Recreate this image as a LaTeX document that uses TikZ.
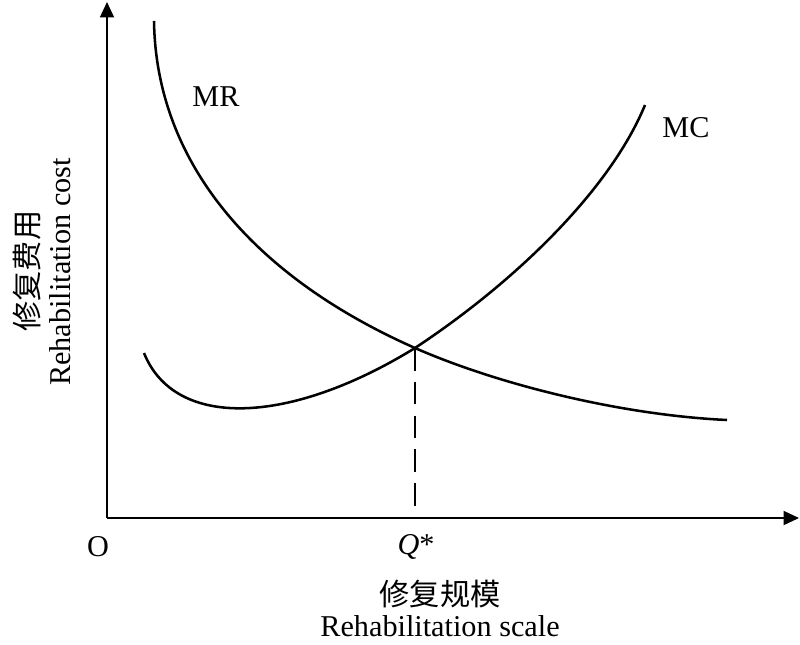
\documentclass[tikz,border=0pt]{standalone}
\usepackage{fontspec}
\setmainfont{Liberation Serif}
\newfontfamily\cjk{Noto Sans CJK SC}
\usetikzlibrary{arrows.meta,positioning}

\tikzset{
  axis/.style={line width=1.2pt, -{Triangle[length=11pt,width=10pt]}},
  curve/.style={line width=1.8pt},
  lbl/.style={inner sep=0pt, font=\fontsize{21.5}{24}\selectfont},
}

\begin{document}
\begin{tikzpicture}[x=0.025cm, y=-0.025cm]
  \useasboundingbox (0,0) rectangle (800,644);

  % axes
  \coordinate (O) at (107,518);
  \coordinate (ytop) at (107,2);
  \coordinate (xend) at (799,518);
  \draw[axis] (O) -- (ytop);
  \draw[axis] (O) -- (xend);

  % MR and MC, meeting at E
  \coordinate (E) at (415,348);
  \coordinate (mrA) at (154,21);
  \coordinate (mrB) at (727,420);
  \coordinate (mcA) at (144,353);
  \coordinate (mcB) at (645,105);
  \draw[curve] (mrA) .. controls (156,160) and (250,275) .. (E)
                     .. controls (497,384) and (620,415) .. (mrB);
  \draw[curve] (mcA) .. controls (175,430) and (290,425) .. (E)
                     .. controls (515,282) and (610,190) .. (mcB);

  % Q*
  \coordinate (Qa) at (415,518);
  \draw[line width=1.1pt, dash pattern=on 16pt off 8pt] (E) -- (Qa);

  % labels
  \node[lbl] (mr) at (216,97) {MR};
  \node[lbl] (mc) at (686,128) {MC};
  \node[lbl] (o) at (98,547) {O};
  \node[lbl] (q) at (416,547) {\itshape Q\upshape*};
  \node[lbl, anchor=base] (xen) at (440,636) {Rehabilitation scale};
  \node[lbl, above=5pt of xen] (xcn) {\cjk 修复规模};
  \node[lbl, rotate=90] (ycn) at (27,271) {\cjk 修复费用};
  \node[lbl, rotate=90] (yen) at (60,272) {Rehabilitation cost};
\end{tikzpicture}
\end{document}
